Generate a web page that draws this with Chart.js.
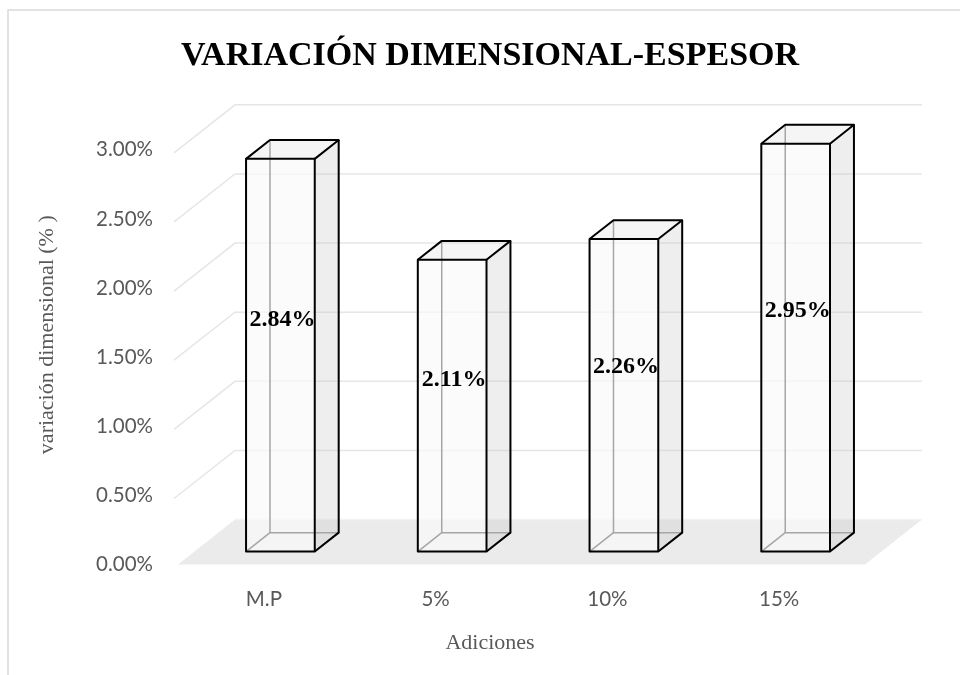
<!DOCTYPE html>
<html lang="es">
<head>
  <meta charset="UTF-8">
  <title>Variación dimensional - espesor</title>
  <script src="https://cdn.jsdelivr.net/npm/chart.js"></script>
  <style>
    html, body { margin: 0; padding: 0; background: #fff; }
    #wrap { width: 960px; height: 675px; }
  </style>
</head>
<body>
  <div id="wrap"><canvas id="grafico"></canvas></div>

  <script>
    // data
    const categorias = ['M.P', '5%', '10%', '15%'];
    const valores = [2.84, 2.11, 2.26, 2.95];
    const yMax = 3;
    const yStep = 0.5;

    // 3D look: depth of the floor and where the boxes sit inside it
    const DX = 57, DY = -45;
    const FRONT = 0.29, BACK = 0.71;
    const GRIS = '#595959';

    const fmt = v => v.toFixed(2) + '%';

    const cajas3d = {
      id: 'cajas3d',
      beforeDraw(chart) {
        const ctx = chart.ctx;
        ctx.save();
        ctx.strokeStyle = '#d9d9d9';
        ctx.lineWidth = 1.5;
        ctx.strokeRect(8, 10, 1100, 1000);
        ctx.restore();
      },
      beforeDatasetsDraw(chart) {
        const { ctx, chartArea: a } = chart;
        const y = chart.scales.y;
        const y0 = y.getPixelForValue(0);
        ctx.save();
        // floor
        ctx.fillStyle = '#ebebeb';
        ctx.beginPath();
        ctx.moveTo(a.left, y0);
        ctx.lineTo(a.right, y0);
        ctx.lineTo(a.right + DX, y0 + DY);
        ctx.lineTo(a.left + DX, y0 + DY);
        ctx.closePath();
        ctx.fill();
        // grid on side and back walls
        ctx.strokeStyle = '#e6e6e6';
        ctx.lineWidth = 1.5;
        y.ticks.forEach(t => {
          if (t.value === 0) return;
          const py = y.getPixelForValue(t.value);
          ctx.beginPath();
          ctx.moveTo(a.left - 4, py + 3);
          ctx.lineTo(a.left + DX, py + DY);
          ctx.lineTo(a.right + DX, py + DY);
          ctx.stroke();
        });
        ctx.strokeStyle = '#f3f3f3';
        ctx.beginPath();
        ctx.moveTo(a.left + DX, y0 + DY);
        ctx.lineTo(a.right + DX, y0 + DY);
        ctx.stroke();
        ctx.restore();
      },
      afterDatasetsDraw(chart) {
        const ctx = chart.ctx;
        const y = chart.scales.y;
        const meta = chart.getDatasetMeta(0);
        const P = (x, yy, d) => [x + d * DX, yy + d * DY];
        const poly = (pts) => {
          ctx.beginPath();
          ctx.moveTo(pts[0][0], pts[0][1]);
          pts.slice(1).forEach(p => ctx.lineTo(p[0], p[1]));
        };

        ctx.save();
        ctx.lineJoin = 'round';
        meta.data.forEach((bar, i) => {
          const L = bar.x - bar.width / 2, R = bar.x + bar.width / 2;
          const T = bar.y, B = bar.base;
          const FLt = P(L, T, FRONT), FRt = P(R, T, FRONT), FLb = P(L, B, FRONT), FRb = P(R, B, FRONT);
          const BLt = P(L, T, BACK), BRt = P(R, T, BACK), BLb = P(L, B, BACK), BRb = P(R, B, BACK);

          // faces (see-through)
          ctx.fillStyle = 'rgba(200,200,200,0.3)';
          poly([FRt, BRt, BRb, FRb]); ctx.closePath(); ctx.fill();
          ctx.fillStyle = 'rgba(225,225,225,0.35)';
          poly([FLt, BLt, BRt, FRt]); ctx.closePath(); ctx.fill();
          ctx.fillStyle = 'rgba(250,250,250,0.7)';
          poly([FLt, FRt, FRb, FLb]); ctx.closePath(); ctx.fill();

          // hidden edges
          ctx.strokeStyle = '#a6a6a6';
          ctx.lineWidth = 1.5;
          poly([BLt, BLb, BRb]); ctx.stroke();
          poly([FLb, BLb]); ctx.stroke();

          // visible edges
          ctx.strokeStyle = '#000';
          ctx.lineWidth = 2;
          poly([FLt, FRt, FRb, FLb]); ctx.closePath(); ctx.stroke();
          poly([FLt, BLt, BRt, FRt]); ctx.stroke();
          poly([BRt, BRb, FRb]); ctx.stroke();

          // value label
          ctx.fillStyle = '#000';
          ctx.font = 'bold 24px "Liberation Serif", "Times New Roman", serif';
          ctx.textAlign = 'center';
          ctx.textBaseline = 'middle';
          ctx.fillText(fmt(valores[i]), bar.x + FRONT * DX + 2,
                       y.getPixelForValue(valores[i] * 0.59) + FRONT * DY);
        });
        ctx.restore();
      },
      afterDraw(chart) {
        const ctx = chart.ctx;
        const y = chart.scales.y;
        const cy = (y.getPixelForValue(yMax) + DY + y.getPixelForValue(0)) / 2;
        ctx.save();
        ctx.translate(47, cy);
        ctx.rotate(-Math.PI / 2);
        ctx.fillStyle = GRIS;
        ctx.font = '22px "Liberation Serif", "Times New Roman", serif';
        ctx.textAlign = 'center';
        ctx.textBaseline = 'middle';
        ctx.fillText('variación dimensional (% )', 0, 0);
        ctx.restore();
      }
    };

    new Chart(document.getElementById('grafico'), {
      type: 'bar',
      data: {
        labels: categorias,
        datasets: [{
          label: 'variación dimensional',
          data: valores,
          backgroundColor: 'rgba(0,0,0,0)',
          borderWidth: 0,
          barPercentage: 0.4,
          categoryPercentage: 1
        }]
      },
      options: {
        responsive: true,
        maintainAspectRatio: false,
        animation: false,
        layout: { padding: { left: 20, right: 0, top: 0, bottom: 0 } },
        plugins: {
          legend: { display: false },
          tooltip: { enabled: false },
          title: {
            display: true,
            text: 'VARIACIÓN DIMENSIONAL-ESPESOR',
            color: '#000',
            font: { family: '"Liberation Serif", "Times New Roman", serif', size: 34, weight: 'bold' },
            padding: { top: 36, bottom: 73 }
          },
          subtitle: {
            display: true,
            position: 'bottom',
            text: 'Adiciones',
            color: GRIS,
            font: { family: '"Liberation Serif", "Times New Roman", serif', size: 22, weight: 'normal' },
            padding: { top: 5, bottom: 19 }
          }
        },
        scales: {
          x: {
            grid: { display: false, drawTicks: false },
            border: { display: false },
            ticks: { color: GRIS, padding: 22, font: { family: 'Lato', size: 20.5 } },
            afterFit: s => { s.height = 60; }
          },
          y: {
            min: 0,
            max: yMax,
            grid: { display: false, drawTicks: false },
            border: { display: false },
            ticks: {
              stepSize: yStep,
              color: GRIS,
              padding: 25,
              font: { family: 'Lato', size: 20.5 },
              callback: v => fmt(v)
            },
            afterFit: s => { s.width = 158; }
          },
          margen: {
            type: 'linear',
            position: 'right',
            grid: { display: false, drawTicks: false },
            border: { display: false },
            ticks: { display: false },
            afterFit: s => { s.width = 95; }
          }
        }
      },
      plugins: [cajas3d]
    });
  </script>
</body>
</html>
